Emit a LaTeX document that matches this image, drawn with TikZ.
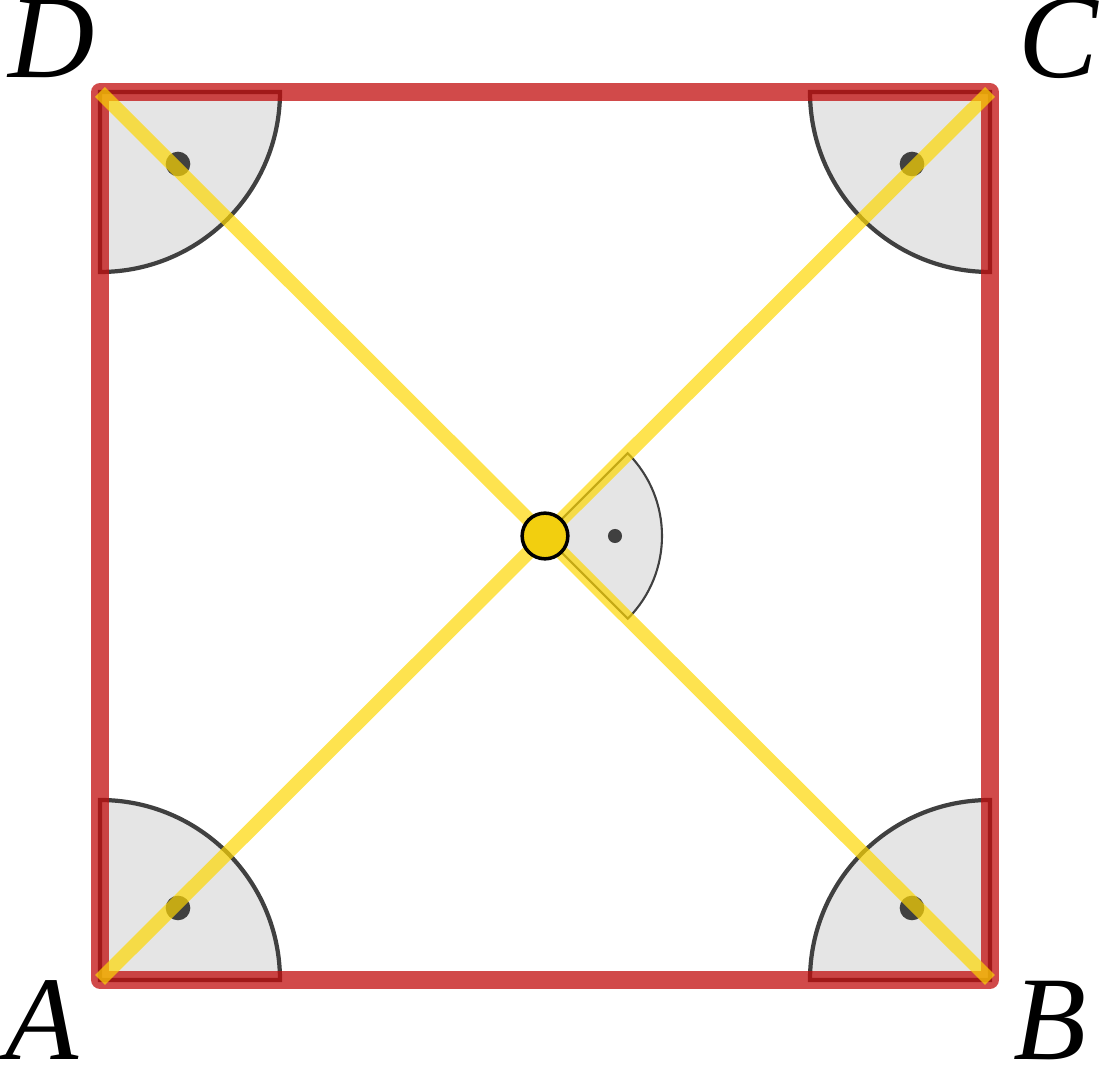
\documentclass[tikz,border=0pt]{standalone}
\usetikzlibrary{calc}
\usepackage{fontspec}
\setmainfont{Liberation Serif}
\begin{document}
\begin{tikzpicture}[x=0.01cm,y=0.01cm,
  sect/.style={fill=gray!20,draw=black!75,line width=1.2pt,line join=miter},
  side/.style={draw=red!75!black!95,draw opacity=0.75,line width=5pt,line cap=round,line join=round},
  diag/.style={draw=yellow!75!orange,draw opacity=0.7,line width=4pt},
  lab/.style={font=\fontsize{34}{40}\selectfont\itshape,anchor=base,inner sep=0pt},
  dotp/.style={circle,fill=black!75,inner sep=0pt,minimum size=7pt}]
\useasboundingbox (0,0) rectangle (1102,1067);
\coordinate (A) at (100,87); \coordinate (B) at (990,87);
\coordinate (C) at (990,975); \coordinate (D) at (100,975);
\coordinate (M) at (545,531);
\draw[sect] (A) -- ++(180,0) arc[start angle=0,end angle=90,radius=180] -- cycle;
\draw[sect] (B) -- ++(0,180) arc[start angle=90,end angle=180,radius=180] -- cycle;
\draw[sect] (C) -- ++(-180,0) arc[start angle=180,end angle=270,radius=180] -- cycle;
\draw[sect] (D) -- ++(0,-180) arc[start angle=270,end angle=360,radius=180] -- cycle;
\draw[sect,line width=0.6pt] (M) -- ++(-45:117) arc[start angle=-45,end angle=45,radius=117] -- cycle;
\node[dotp] at ($(A)+(78,72)$) {};
\node[dotp] at ($(B)+(-78,72)$) {};
\node[dotp] at ($(C)+(-78,-72)$) {};
\node[dotp] at ($(D)+(78,-72)$) {};
\node[dotp,minimum size=4pt] at (615,531) {};
\draw[side] (A) -- (B) -- (C) -- (D) -- cycle;
\draw[diag] (A) -- (C);
\draw[diag] (B) -- (D);
\node[circle,fill=yellow!75!orange!95!black,draw=black,line width=1pt,minimum size=13pt,inner sep=0pt] (O) at (M) {};
\node[lab] at (42,7) {A};
\node[lab] at (1050,7) {B};
\node[lab] at (1058,989) {C};
\node[lab] at (52,989) {D};
\end{tikzpicture}
\end{document}
